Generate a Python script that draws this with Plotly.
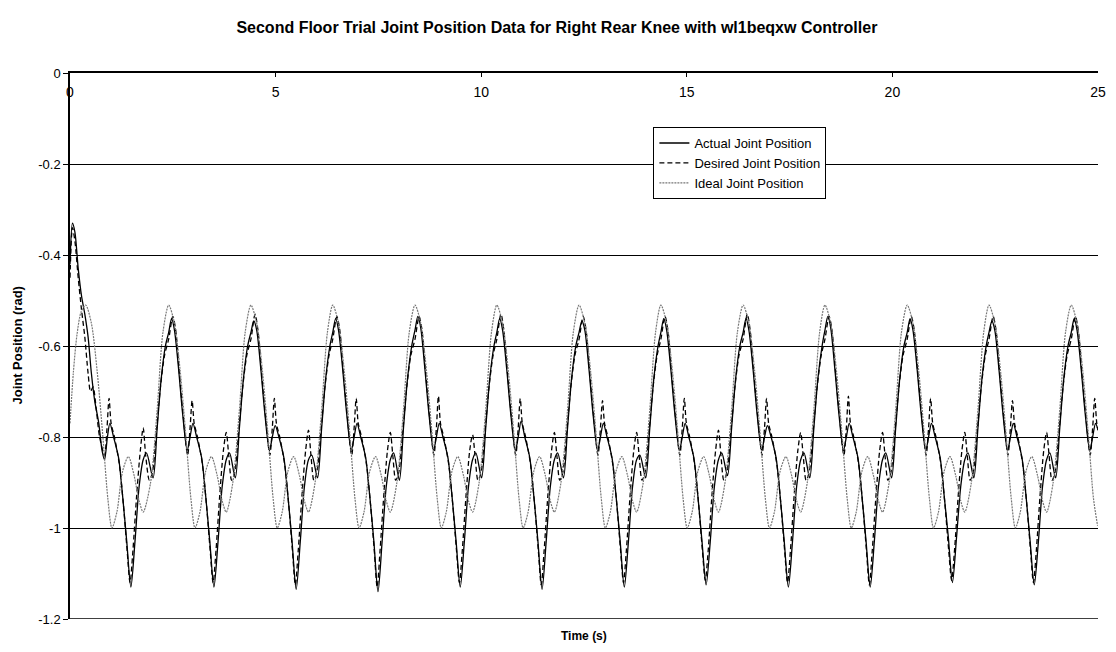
import plotly.graph_objects as go

# ---------------- data ----------------
x_tick_vals = [0, 5, 10, 15, 20, 25]
y_tick_vals = [0, -0.2, -0.4, -0.6, -0.8, -1.0, -1.2]
y_tick_text = ["0", "-0.2", "-0.4", "-0.6", "-0.8", "-1", "-1.2"]

# Ideal joint position (time s, position rad)
time_ideal = [
    0.00, 0.08, 0.17, 0.27, 0.38, 0.52, 0.66, 0.80, 0.92, 1.02, 1.14, 1.28, 1.42, 1.56, 1.68, 1.78, 1.96, 2.12, 2.26,
    2.40, 2.54, 2.68, 2.82, 2.94, 3.04, 3.16, 3.30, 3.44, 3.58, 3.70, 3.80, 3.96, 4.12, 4.26,
    4.40, 4.54, 4.68, 4.82, 4.94, 5.04, 5.16, 5.30, 5.44, 5.58, 5.70, 5.80, 5.96, 6.12, 6.26,
    6.39, 6.53, 6.67, 6.81, 6.93, 7.03, 7.15, 7.29, 7.43, 7.57, 7.69, 7.79, 7.95, 8.11, 8.25,
    8.39, 8.53, 8.67, 8.81, 8.93, 9.03, 9.15, 9.29, 9.43, 9.57, 9.69, 9.79, 9.95, 10.11, 10.25,
    10.38, 10.52, 10.66, 10.80, 10.92, 11.02, 11.14, 11.28, 11.42, 11.56, 11.68, 11.78, 11.94, 12.10, 12.24,
    12.38, 12.52, 12.66, 12.80, 12.92, 13.02, 13.14, 13.28, 13.42, 13.56, 13.68, 13.78, 13.94, 14.10, 14.24,
    14.37, 14.51, 14.65, 14.79, 14.91, 15.01, 15.13, 15.27, 15.41, 15.55, 15.67, 15.77, 15.93, 16.09, 16.23,
    16.37, 16.51, 16.65, 16.79, 16.91, 17.01, 17.13, 17.27, 17.41, 17.55, 17.67, 17.77, 17.93, 18.09, 18.23,
    18.36, 18.50, 18.64, 18.78, 18.90, 19.00, 19.12, 19.26, 19.40, 19.54, 19.66, 19.76, 19.92, 20.08, 20.22,
    20.36, 20.50, 20.64, 20.78, 20.90, 21.00, 21.12, 21.26, 21.40, 21.54, 21.66, 21.76, 21.92, 22.08, 22.22,
    22.35, 22.49, 22.63, 22.77, 22.89, 22.99, 23.11, 23.25, 23.39, 23.53, 23.65, 23.75, 23.91, 24.07, 24.21,
    24.35, 24.49, 24.63, 24.77, 24.89, 24.99,
]
ideal_pos = [
    -0.770, -0.660, -0.575, -0.525, -0.510, -0.550, -0.655, -0.800, -0.935, -1.000, -0.965, -0.875, -0.843, -0.885, -0.940, -0.965, -0.900, -0.740, -0.570,
    -0.510, -0.550, -0.655, -0.800, -0.935, -1.000, -0.965, -0.875, -0.843, -0.885, -0.940, -0.965, -0.900, -0.740, -0.570,
    -0.510, -0.550, -0.655, -0.800, -0.935, -1.000, -0.965, -0.875, -0.843, -0.885, -0.940, -0.965, -0.900, -0.740, -0.570,
    -0.510, -0.550, -0.655, -0.800, -0.935, -1.000, -0.965, -0.875, -0.843, -0.885, -0.940, -0.965, -0.900, -0.740, -0.570,
    -0.510, -0.550, -0.655, -0.800, -0.935, -1.000, -0.965, -0.875, -0.843, -0.885, -0.940, -0.965, -0.900, -0.740, -0.570,
    -0.510, -0.550, -0.655, -0.800, -0.935, -1.000, -0.965, -0.875, -0.843, -0.885, -0.940, -0.965, -0.900, -0.740, -0.570,
    -0.510, -0.550, -0.655, -0.800, -0.935, -1.000, -0.965, -0.875, -0.843, -0.885, -0.940, -0.965, -0.900, -0.740, -0.570,
    -0.510, -0.550, -0.655, -0.800, -0.935, -1.000, -0.965, -0.875, -0.843, -0.885, -0.940, -0.965, -0.900, -0.740, -0.570,
    -0.510, -0.550, -0.655, -0.800, -0.935, -1.000, -0.965, -0.875, -0.843, -0.885, -0.940, -0.965, -0.900, -0.740, -0.570,
    -0.510, -0.550, -0.655, -0.800, -0.935, -1.000, -0.965, -0.875, -0.843, -0.885, -0.940, -0.965, -0.900, -0.740, -0.570,
    -0.510, -0.550, -0.655, -0.800, -0.935, -1.000, -0.965, -0.875, -0.843, -0.885, -0.940, -0.965, -0.900, -0.740, -0.570,
    -0.510, -0.550, -0.655, -0.800, -0.935, -1.000, -0.965, -0.875, -0.843, -0.885, -0.940, -0.965, -0.900, -0.740, -0.570,
    -0.510, -0.550, -0.655, -0.800, -0.935, -0.995,
]

# Actual joint position
time_actual = [
    0.00, 0.06, 0.12, 0.20, 0.28, 0.36, 0.44, 0.52, 0.60, 0.70, 0.78, 0.84, 0.91, 0.97, 1.06, 1.18, 1.28, 1.38, 1.48, 1.58, 1.68, 1.78, 1.86, 2.02, 2.12, 2.22, 2.32,
    2.40, 2.47, 2.54, 2.64, 2.74, 2.85, 2.92, 2.99, 3.08, 3.20, 3.30, 3.40, 3.50, 3.60, 3.70, 3.80, 3.88, 4.02, 4.12, 4.22, 4.32,
    4.40, 4.47, 4.54, 4.64, 4.74, 4.85, 4.92, 4.99, 5.08, 5.20, 5.30, 5.40, 5.50, 5.60, 5.70, 5.80, 5.88, 6.02, 6.12, 6.22, 6.32,
    6.39, 6.46, 6.53, 6.63, 6.73, 6.84, 6.91, 6.98, 7.07, 7.19, 7.29, 7.39, 7.49, 7.59, 7.69, 7.79, 7.87, 8.01, 8.11, 8.21, 8.31,
    8.39, 8.46, 8.53, 8.63, 8.73, 8.84, 8.91, 8.98, 9.07, 9.19, 9.29, 9.39, 9.49, 9.59, 9.69, 9.79, 9.87, 10.01, 10.11, 10.21, 10.31,
    10.38, 10.45, 10.52, 10.62, 10.72, 10.83, 10.90, 10.97, 11.06, 11.18, 11.28, 11.38, 11.48, 11.58, 11.68, 11.78, 11.86, 12.00, 12.10, 12.20, 12.30,
    12.38, 12.45, 12.52, 12.62, 12.72, 12.83, 12.90, 12.97, 13.06, 13.18, 13.28, 13.38, 13.48, 13.58, 13.68, 13.78, 13.86, 14.00, 14.10, 14.20, 14.30,
    14.37, 14.44, 14.51, 14.61, 14.71, 14.82, 14.89, 14.96, 15.05, 15.17, 15.27, 15.37, 15.47, 15.57, 15.67, 15.77, 15.85, 15.99, 16.09, 16.19, 16.29,
    16.37, 16.44, 16.51, 16.61, 16.71, 16.82, 16.89, 16.96, 17.05, 17.17, 17.27, 17.37, 17.47, 17.57, 17.67, 17.77, 17.85, 17.99, 18.09, 18.19, 18.29,
    18.36, 18.43, 18.50, 18.60, 18.70, 18.81, 18.88, 18.95, 19.04, 19.16, 19.26, 19.36, 19.46, 19.56, 19.66, 19.76, 19.84, 19.98, 20.08, 20.18, 20.28,
    20.36, 20.43, 20.50, 20.60, 20.70, 20.81, 20.88, 20.95, 21.04, 21.16, 21.26, 21.36, 21.46, 21.56, 21.66, 21.76, 21.84, 21.98, 22.08, 22.18, 22.28,
    22.35, 22.42, 22.49, 22.59, 22.69, 22.80, 22.87, 22.94, 23.03, 23.15, 23.25, 23.35, 23.45, 23.55, 23.65, 23.75, 23.83, 23.97, 24.07, 24.17, 24.27,
    24.35, 24.42, 24.49, 24.59, 24.69, 24.80, 24.87, 24.94, 25.00,
]
actual_pos = [
    -0.42, -0.33, -0.35, -0.43, -0.49, -0.53, -0.58, -0.66, -0.72, -0.77, -0.83, -0.85, -0.80, -0.77, -0.80, -0.845, -0.93, -1.03, -1.13, -1.03, -0.91, -0.85, -0.835, -0.89, -0.78, -0.67, -0.60,
    -0.57, -0.54, -0.565, -0.65, -0.75, -0.83, -0.80, -0.77, -0.80, -0.845, -0.93, -1.03, -1.13, -1.03, -0.91, -0.85, -0.835, -0.89, -0.78, -0.67, -0.60,
    -0.57, -0.545, -0.565, -0.65, -0.75, -0.83, -0.80, -0.775, -0.80, -0.845, -0.93, -1.03, -1.135, -1.03, -0.91, -0.85, -0.84, -0.89, -0.78, -0.67, -0.60,
    -0.57, -0.54, -0.565, -0.65, -0.75, -0.83, -0.80, -0.77, -0.80, -0.845, -0.93, -1.03, -1.14, -1.03, -0.91, -0.85, -0.835, -0.895, -0.78, -0.67, -0.60,
    -0.565, -0.535, -0.56, -0.65, -0.75, -0.83, -0.80, -0.77, -0.80, -0.845, -0.93, -1.03, -1.13, -1.03, -0.91, -0.85, -0.835, -0.89, -0.78, -0.67, -0.60,
    -0.57, -0.54, -0.565, -0.65, -0.75, -0.83, -0.80, -0.765, -0.80, -0.845, -0.93, -1.03, -1.135, -1.03, -0.91, -0.85, -0.835, -0.89, -0.78, -0.67, -0.60,
    -0.57, -0.545, -0.565, -0.65, -0.75, -0.83, -0.80, -0.77, -0.80, -0.845, -0.93, -1.03, -1.13, -1.03, -0.91, -0.85, -0.84, -0.89, -0.78, -0.67, -0.60,
    -0.57, -0.54, -0.565, -0.65, -0.75, -0.83, -0.80, -0.77, -0.80, -0.845, -0.93, -1.03, -1.125, -1.03, -0.91, -0.85, -0.835, -0.885, -0.78, -0.67, -0.60,
    -0.57, -0.54, -0.565, -0.65, -0.75, -0.83, -0.80, -0.775, -0.80, -0.845, -0.93, -1.03, -1.13, -1.03, -0.91, -0.85, -0.835, -0.89, -0.78, -0.67, -0.60,
    -0.565, -0.535, -0.56, -0.65, -0.75, -0.83, -0.80, -0.77, -0.80, -0.845, -0.93, -1.03, -1.13, -1.03, -0.91, -0.85, -0.835, -0.89, -0.78, -0.67, -0.60,
    -0.57, -0.54, -0.565, -0.65, -0.75, -0.83, -0.80, -0.77, -0.80, -0.845, -0.93, -1.02, -1.12, -1.02, -0.91, -0.85, -0.835, -0.89, -0.78, -0.67, -0.60,
    -0.57, -0.545, -0.565, -0.65, -0.75, -0.83, -0.80, -0.77, -0.80, -0.845, -0.93, -1.03, -1.125, -1.03, -0.91, -0.85, -0.835, -0.89, -0.78, -0.67, -0.60,
    -0.57, -0.54, -0.565, -0.65, -0.75, -0.83, -0.80, -0.77, -0.785,
]

# Desired joint position
time_desired = [
    0.00, 0.06, 0.12, 0.20, 0.28, 0.36, 0.44, 0.50, 0.56, 0.64, 0.72, 0.84, 0.90, 0.95, 1.00, 1.08, 1.20, 1.30, 1.39, 1.46, 1.53, 1.62, 1.71, 1.78, 1.84, 1.93, 2.00, 2.10, 2.20, 2.30,
    2.40, 2.50, 2.57, 2.66, 2.76, 2.86, 2.92, 2.97, 3.02, 3.10, 3.22, 3.32, 3.41, 3.48, 3.55, 3.64, 3.73, 3.80, 3.86, 3.93, 4.00, 4.10, 4.20, 4.30,
    4.40, 4.50, 4.57, 4.66, 4.76, 4.86, 4.92, 4.97, 5.02, 5.10, 5.22, 5.32, 5.41, 5.48, 5.55, 5.64, 5.73, 5.80, 5.86, 5.93, 6.00, 6.10, 6.20, 6.30,
    6.39, 6.49, 6.56, 6.65, 6.75, 6.85, 6.91, 6.96, 7.01, 7.09, 7.21, 7.31, 7.40, 7.47, 7.54, 7.63, 7.72, 7.79, 7.85, 7.92, 7.99, 8.09, 8.19, 8.29,
    8.39, 8.49, 8.56, 8.65, 8.75, 8.85, 8.91, 8.96, 9.01, 9.09, 9.21, 9.31, 9.40, 9.47, 9.54, 9.63, 9.72, 9.79, 9.85, 9.92, 9.99, 10.09, 10.19, 10.29,
    10.38, 10.48, 10.55, 10.64, 10.74, 10.84, 10.90, 10.95, 11.00, 11.08, 11.20, 11.30, 11.39, 11.46, 11.53, 11.62, 11.71, 11.78, 11.84, 11.91, 11.98, 12.08, 12.18, 12.28,
    12.38, 12.48, 12.55, 12.64, 12.74, 12.84, 12.90, 12.95, 13.00, 13.08, 13.20, 13.30, 13.39, 13.46, 13.53, 13.62, 13.71, 13.78, 13.84, 13.91, 13.98, 14.08, 14.18, 14.28,
    14.37, 14.47, 14.54, 14.63, 14.73, 14.83, 14.89, 14.94, 14.99, 15.07, 15.19, 15.29, 15.38, 15.45, 15.52, 15.61, 15.70, 15.77, 15.83, 15.90, 15.97, 16.07, 16.17, 16.27,
    16.37, 16.47, 16.54, 16.63, 16.73, 16.83, 16.89, 16.94, 16.99, 17.07, 17.19, 17.29, 17.38, 17.45, 17.52, 17.61, 17.70, 17.77, 17.83, 17.90, 17.97, 18.07, 18.17, 18.27,
    18.36, 18.46, 18.53, 18.62, 18.72, 18.82, 18.88, 18.93, 18.98, 19.06, 19.18, 19.28, 19.37, 19.44, 19.51, 19.60, 19.69, 19.76, 19.82, 19.89, 19.96, 20.06, 20.16, 20.26,
    20.36, 20.46, 20.53, 20.62, 20.72, 20.82, 20.88, 20.93, 20.98, 21.06, 21.18, 21.28, 21.37, 21.44, 21.51, 21.60, 21.69, 21.76, 21.82, 21.89, 21.96, 22.06, 22.16, 22.26,
    22.35, 22.45, 22.52, 22.61, 22.71, 22.81, 22.87, 22.92, 22.97, 23.05, 23.17, 23.27, 23.36, 23.43, 23.50, 23.59, 23.68, 23.75, 23.81, 23.88, 23.95, 24.05, 24.15, 24.25,
    24.35, 24.45, 24.52, 24.61, 24.71, 24.81, 24.87, 24.92, 24.97, 25.00,
]
desired_pos = [
    -0.45, -0.34, -0.37, -0.45, -0.52, -0.58, -0.66, -0.70, -0.69, -0.74, -0.80, -0.84, -0.78, -0.715, -0.77, -0.80, -0.86, -0.95, -1.05, -1.12, -1.05, -0.93, -0.83, -0.78, -0.84, -0.895, -0.88, -0.79, -0.69, -0.62,
    -0.585, -0.535, -0.565, -0.66, -0.76, -0.84, -0.78, -0.72, -0.77, -0.80, -0.86, -0.95, -1.05, -1.12, -1.05, -0.93, -0.83, -0.79, -0.84, -0.895, -0.88, -0.79, -0.69, -0.62,
    -0.585, -0.53, -0.565, -0.66, -0.76, -0.84, -0.78, -0.715, -0.77, -0.80, -0.86, -0.95, -1.05, -1.125, -1.05, -0.93, -0.83, -0.785, -0.84, -0.895, -0.88, -0.79, -0.69, -0.62,
    -0.585, -0.535, -0.565, -0.66, -0.76, -0.84, -0.78, -0.715, -0.77, -0.80, -0.86, -0.95, -1.05, -1.13, -1.05, -0.93, -0.83, -0.79, -0.84, -0.895, -0.88, -0.79, -0.69, -0.62,
    -0.585, -0.535, -0.565, -0.66, -0.76, -0.84, -0.78, -0.71, -0.77, -0.80, -0.86, -0.95, -1.05, -1.12, -1.05, -0.93, -0.83, -0.795, -0.84, -0.895, -0.88, -0.79, -0.69, -0.62,
    -0.585, -0.53, -0.565, -0.66, -0.76, -0.84, -0.78, -0.715, -0.77, -0.80, -0.86, -0.95, -1.05, -1.125, -1.05, -0.93, -0.83, -0.79, -0.84, -0.895, -0.88, -0.79, -0.69, -0.62,
    -0.585, -0.535, -0.565, -0.66, -0.76, -0.84, -0.78, -0.72, -0.77, -0.80, -0.86, -0.95, -1.05, -1.12, -1.05, -0.93, -0.83, -0.79, -0.84, -0.895, -0.88, -0.79, -0.69, -0.62,
    -0.585, -0.535, -0.565, -0.66, -0.76, -0.84, -0.78, -0.715, -0.77, -0.80, -0.86, -0.95, -1.05, -1.115, -1.05, -0.93, -0.83, -0.785, -0.84, -0.895, -0.88, -0.79, -0.69, -0.62,
    -0.585, -0.53, -0.565, -0.66, -0.76, -0.84, -0.78, -0.715, -0.77, -0.80, -0.86, -0.95, -1.05, -1.12, -1.05, -0.93, -0.83, -0.79, -0.84, -0.895, -0.88, -0.79, -0.69, -0.62,
    -0.585, -0.535, -0.565, -0.66, -0.76, -0.84, -0.78, -0.71, -0.77, -0.80, -0.86, -0.95, -1.05, -1.125, -1.05, -0.93, -0.83, -0.79, -0.84, -0.895, -0.88, -0.79, -0.69, -0.62,
    -0.585, -0.535, -0.565, -0.66, -0.76, -0.84, -0.78, -0.715, -0.77, -0.80, -0.86, -0.95, -1.05, -1.115, -1.05, -0.93, -0.83, -0.79, -0.84, -0.895, -0.88, -0.79, -0.69, -0.62,
    -0.585, -0.535, -0.565, -0.66, -0.76, -0.84, -0.78, -0.72, -0.77, -0.80, -0.86, -0.95, -1.05, -1.12, -1.05, -0.93, -0.83, -0.79, -0.84, -0.895, -0.88, -0.79, -0.69, -0.62,
    -0.585, -0.535, -0.565, -0.66, -0.76, -0.84, -0.78, -0.715, -0.77, -0.785,
]

title_text = "Second Floor Trial Joint Position Data for Right Rear Knee with wl1beqxw Controller"
FONT = "Arial, 'Liberation Sans', sans-serif"

fig = go.Figure()
fig.add_trace(go.Scatter(
    x=time_actual, y=actual_pos, mode="lines", name="Actual Joint Position",
    line=dict(color="black", width=1.3, shape="spline", smoothing=0.8),
))
fig.add_trace(go.Scatter(
    x=time_desired, y=desired_pos, mode="lines", name="Desired Joint Position",
    line=dict(color="black", width=1.3, dash="5px,3px", shape="spline", smoothing=0.8),
))
fig.add_trace(go.Scatter(
    x=time_ideal, y=ideal_pos, mode="lines", name="Ideal Joint Position",
    line=dict(color="#777777", width=1.2, dash="2px,1px", shape="spline", smoothing=0.8),
))

fig.update_layout(
    width=1116, height=652,
    margin=dict(l=70, r=10, t=73, b=33),
    paper_bgcolor="white", plot_bgcolor="white",
    font=dict(family=FONT, color="black", size=13),
    title=dict(text="<b>" + title_text + "</b>", x=0.499, xref="container",
               y=1 - 27 / 652, yref="container", xanchor="center", yanchor="middle",
               font=dict(size=16, family=FONT, color="black")),
    showlegend=True,
    legend=dict(x=0.5675, y=0.901, xanchor="left", yanchor="top",
                bgcolor="white", bordercolor="black", borderwidth=1,
                font=dict(size=13, family=FONT, color="black"),
                tracegroupgap=0, itemwidth=30),
    xaxis=dict(range=[0, 25], side="top", tickvals=x_tick_vals,
               ticks="inside", ticklen=4, tickcolor="black", tickwidth=1,
               ticklabelposition="inside", ticklabeloverflow="allow",
               ticklabelstandoff=10,
               showline=True, linecolor="black", linewidth=1.5,
               showgrid=False, zeroline=False,
               tickfont=dict(size=14, family=FONT, color="black")),
    yaxis=dict(range=[-1.2, 0], tickvals=y_tick_vals, ticktext=y_tick_text,
               ticks="outside", ticklen=5, tickcolor="black", tickwidth=1,
               showline=True, linecolor="black", linewidth=1.5,
               showgrid=True, gridcolor="black", gridwidth=1.2, zeroline=False,
               tickfont=dict(size=13, family=FONT, color="black")),
    shapes=[dict(type="line", xref="paper", yref="y", x0=0, x1=1, y0=-1.2, y1=-1.2,
                 line=dict(color="black", width=1.5))],
    annotations=[
        dict(text="<b>Time (s)</b>", xref="paper", yref="paper", x=0.5, y=-0.031,
             xanchor="center", yanchor="middle", showarrow=False,
             font=dict(size=12, family=FONT, color="black")),
        dict(text="<b>Joint Position (rad)</b>", xref="paper", yref="paper",
             x=-0.052, y=0.5, xanchor="center", yanchor="middle", textangle=-90,
             showarrow=False, font=dict(size=13, family=FONT, color="black")),
    ],
)

fig.write_html("out.html")
